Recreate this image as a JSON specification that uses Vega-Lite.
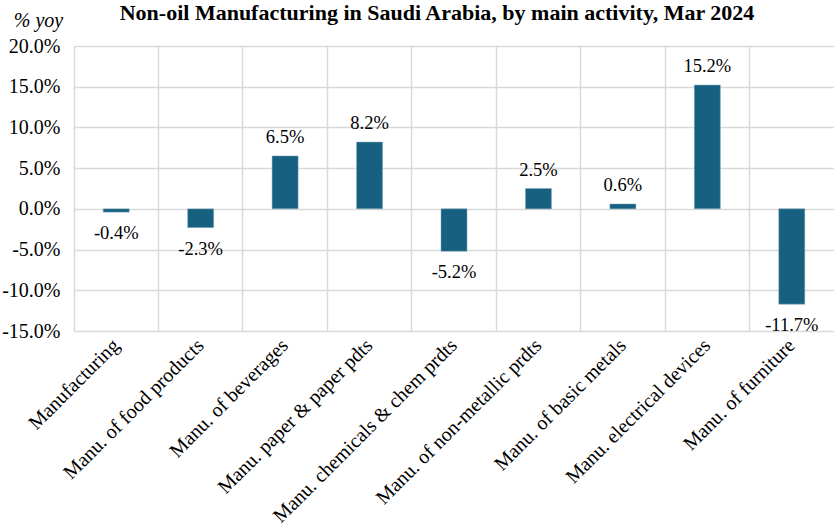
{
  "$schema": "https://vega.github.io/schema/vega-lite/v6.json",
  "width": 760,
  "height": 285,
  "autosize": {"type": "none"},
  "padding": {"left": 74, "top": 46, "right": 0, "bottom": 197},
  "background": "white",
  "config": {
    "locale": {"number": {"decimal": ".", "thousands": ",", "grouping": [3], "currency": ["$", ""], "minus": "-"}},
    "font": "Liberation Serif",
    "view": {"stroke": null}
  },
  "title": {
    "text": "Non-oil Manufacturing in Saudi Arabia, by main activity, Mar 2024",
    "font": "Liberation Serif",
    "fontSize": 22,
    "fontWeight": "bold",
    "color": "black",
    "anchor": "middle",
    "frame": "group",
    "dx": -17,
    "offset": -15
  },
  "data": {
    "values": [
      {"activity": "Manufacturing", "yoy": -0.004},
      {"activity": "Manu. of food products", "yoy": -0.023},
      {"activity": "Manu. of beverages", "yoy": 0.065},
      {"activity": "Manu. paper & paper pdts", "yoy": 0.082},
      {"activity": "Manu. chemicals & chem prdts", "yoy": -0.052},
      {"activity": "Manu. of non-metallic prdts", "yoy": 0.025},
      {"activity": "Manu. of basic metals", "yoy": 0.006},
      {"activity": "Manu. electrical devices", "yoy": 0.152},
      {"activity": "Manu. of furniture", "yoy": -0.117}
    ]
  },
  "encoding": {
    "x": {
      "field": "activity",
      "type": "nominal",
      "sort": null,
      "scale": {"paddingInner": 0, "paddingOuter": 0},
      "axis": {
        "title": null,
        "bandPosition": 0,
        "labelAngle": -45,
        "labelAlign": "right",
        "labelBaseline": "middle",
        "labelFont": "Liberation Serif",
        "labelFontSize": 20,
        "labelColor": "black",
        "labelPadding": 11,
        "labelLimit": 0,
        "labelOverlap": false,
        "ticks": false,
        "domain": false,
        "grid": true,
        "gridColor": "#d9d9d9",
        "gridWidth": 1.5
      }
    },
    "y": {
      "field": "yoy",
      "type": "quantitative",
      "scale": {"domain": [-0.15, 0.2], "nice": false},
      "axis": {
        "values": [-0.15, -0.1, -0.05, 0, 0.05, 0.1, 0.15, 0.2],
        "format": ".1%",
        "title": "% yoy",
        "titleAngle": 0,
        "titleFontStyle": "italic",
        "titleFontWeight": "normal",
        "titleFont": "Liberation Serif",
        "titleFontSize": 20,
        "titleColor": "black",
        "titleAlign": "center",
        "titleBaseline": "middle",
        "titleX": -36,
        "titleY": -26,
        "labelFont": "Liberation Serif",
        "labelFontSize": 20,
        "labelColor": "black",
        "labelPadding": 14,
        "ticks": false,
        "domain": false,
        "grid": true,
        "gridColor": "#d9d9d9",
        "gridWidth": 1.5
      }
    }
  },
  "layer": [
    {
      "mark": {"type": "bar", "size": 26, "color": "#17607f", "stroke": "#7fa6bb", "strokeWidth": 0.5}
    },
    {
      "transform": [{"filter": "datum.yoy >= 0"}],
      "mark": {"type": "text", "font": "Liberation Serif", "fontSize": 18.5, "color": "black", "baseline": "middle", "dy": -19},
      "encoding": {
        "text": {"field": "yoy", "type": "quantitative", "format": ".1%"}
      }
    },
    {
      "transform": [{"filter": "datum.yoy < 0"}],
      "mark": {"type": "text", "font": "Liberation Serif", "fontSize": 18.5, "color": "black", "baseline": "middle", "dy": 21},
      "encoding": {
        "text": {"field": "yoy", "type": "quantitative", "format": ".1%"}
      }
    }
  ]
}
